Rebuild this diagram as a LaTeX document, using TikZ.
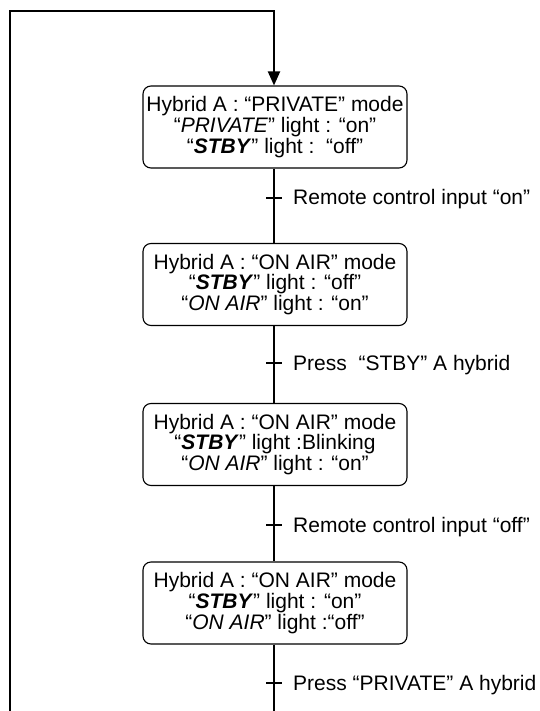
\documentclass[tikz,border=0pt]{standalone}
\usepackage{fontspec}
\setmainfont{Liberation Sans}
\usetikzlibrary{arrows.meta}

\begin{document}
\begin{tikzpicture}[x=1pt,y=-1pt,
  state/.style={draw,line width=1.1pt,rounded corners=8pt,align=center,
    minimum width=264pt,minimum height=82pt,inner sep=3pt,
    font=\fontsize{21}{20.8}\selectfont},
  cond/.style={anchor=base west,inner sep=0pt,font=\fontsize{21}{21}\selectfont},
  flow/.style={line width=1.5pt},
  loop/.style={line width=2pt}]%
\useasboundingbox (0,0) rectangle (539,711);%
% states
\node[state] (privA) at (275,127) {Hybrid A : “PRIVATE” mode\\“\textit{PRIVATE}” light : “on”\\“\textbf{\textit{STBY}}” light :\ \ “off”};%
\node[state] (airA) at (275,284.5) {Hybrid A : “ON AIR” mode\\“\textbf{\textit{STBY}}” light : “off”\\“\textit{ON AIR}” light : “on”};%
\node[state] (blinkA) at (275,444.5) {Hybrid A : “ON AIR” mode\\“\textbf{\textit{STBY}}” light :Blinking\\“\textit{ON AIR}” light : “on”};%
\node[state] (stbyA) at (275,603) {Hybrid A : “ON AIR” mode\\“\textbf{\textit{STBY}}” light : “on”\\“\textit{ON AIR}” light :“off”};%
% transitions
\coordinate (t1) at (274,198);%
\coordinate (t2) at (274,363);%
\coordinate (t3) at (274,525);%
\coordinate (t4) at (274,683);%
\node[cond] (remOn) at (293,205) {Remote control input “on”};%
\node[cond] (stbyPress) at (293,370) {Press\ \ “STBY” A hybrid};%
\node[cond] (remOff) at (293,532) {Remote control input “off”};%
\node[cond] (privPress) at (293,690) {Press “PRIVATE” A hybrid};%
\draw[flow] (privA.south -| t1) -- (airA.north -| t1);%
\draw[flow] (airA.south -| t1) -- (blinkA.north -| t1);%
\draw[flow] (blinkA.south -| t1) -- (stbyA.north -| t1);%
\coordinate (bot) at (274,711);%
\draw[flow] (stbyA.south -| t1) -- (bot);%
\foreach \t in {t1,t2,t3,t4}
  \draw[line width=1.2pt] ([xshift=-8pt]\t) -- ([xshift=8pt]\t);%
% loop back
\coordinate (lb) at (10,711);%
\coordinate (lt) at (10,11);%
\draw[loop,-{Triangle[width=12pt,length=14pt]}] (lb) -- (lt) -- (lt -| t1) -- (privA.north -| t1);%
\end{tikzpicture}
\end{document}
